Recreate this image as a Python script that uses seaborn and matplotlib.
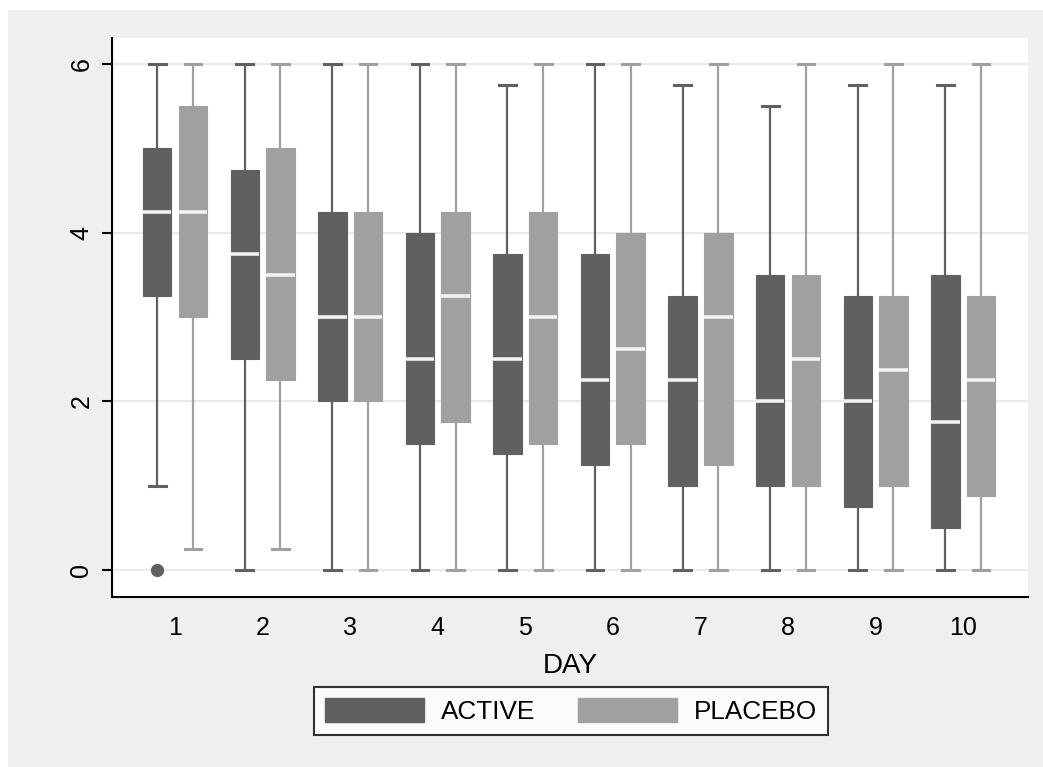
import numpy as np
import pandas as pd
import seaborn as sns
import matplotlib.pyplot as plt
from matplotlib.patches import Patch, Rectangle

# box summaries, one value per day
days = [str(d) for d in range(1, 11)]
groups = ["ACTIVE", "PLACEBO"]

active_lo = [1.0, 0, 0, 0, 0, 0, 0, 0, 0, 0]
active_q1 = [3.25, 2.5, 2.0, 1.5, 1.375, 1.25, 1.0, 1.0, 0.75, 0.5]
active_med = [4.25, 3.75, 3.0, 2.5, 2.5, 2.25, 2.25, 2.0, 2.0, 1.75]
active_q3 = [5.0, 4.75, 4.25, 4.0, 3.75, 3.75, 3.25, 3.5, 3.25, 3.5]
active_hi = [6, 6, 6, 6, 5.75, 6, 5.75, 5.5, 5.75, 5.75]
active_out = {"1": [0.0]}

placebo_lo = [0.25, 0.25, 0, 0, 0, 0, 0, 0, 0, 0]
placebo_q1 = [3.0, 2.25, 2.0, 1.75, 1.5, 1.5, 1.25, 1.0, 1.0, 0.875]
placebo_med = [4.25, 3.5, 3.0, 3.25, 3.0, 2.625, 3.0, 2.5, 2.375, 2.25]
placebo_q3 = [5.5, 5.0, 4.25, 4.25, 4.25, 4.0, 4.0, 3.5, 3.25, 3.25]
placebo_hi = [6, 6, 6, 6, 6, 6, 6, 6, 6, 6]
placebo_out = {}

colors = {"ACTIVE": "#606060", "PLACEBO": "#a0a0a0"}


# rebuild 9 values per box so the quartiles come out exactly as read
def sample(lo, q1, med, q3, hi, out):
    pts = list(out) + [lo] * (2 - len(out))
    return pts + [q1, q1, med, q3, q3, hi, hi]


rows = []
for grp, lo, q1, md, q3, hi, out in [
    ("ACTIVE", active_lo, active_q1, active_med, active_q3, active_hi, active_out),
    ("PLACEBO", placebo_lo, placebo_q1, placebo_med, placebo_q3, placebo_hi, placebo_out),
]:
    for i, d in enumerate(days):
        for v in sample(lo[i], q1[i], md[i], q3[i], hi[i], out.get(d, [])):
            rows.append({"DAY": d, "score": v, "group": grp})
df = pd.DataFrame(rows)

plt.rcParams["font.family"] = ["Liberation Sans", "DejaVu Sans"]

fig = plt.figure(figsize=(10.43, 7.67), dpi=100, facecolor="white")
fig.add_artist(Rectangle((8 / 1043, -0.1), 1.2, 1.1 - 10 / 767, transform=fig.transFigure,
                         facecolor="#efefef", edgecolor="none", zorder=-10))
ax = fig.add_axes([112 / 1043, 1 - 597 / 767, (1028 - 112) / 1043, (597 - 38) / 767])
ax.set_facecolor("white")

# one call per group so each keeps its own line colour; dodge forced on
for g in groups:
    c = colors[g]
    sns.boxplot(data=df[df["group"] == g], x="DAY", y="score", hue="group",
                order=days, hue_order=groups, palette=colors, dodge=True,
                width=0.815, gap=0.2,
                linecolor=c, linewidth=1.6, fliersize=8.5, legend=False, ax=ax,
                medianprops={"color": "#f2f2f2", "linewidth": 2.6},
                capprops={"linewidth": 2.2},
                boxprops={"edgecolor": c, "linewidth": 0.8},
                flierprops={"marker": "o", "markerfacecolor": c, "markeredgecolor": c},
                capwidths=0.19)

ax.set_xlim(-0.72, 9.74)
ax.set_ylim(-0.32, 6.31)
ax.set_yticks([0, 2, 4, 6])
ax.yaxis.grid(True, color="#e6e6e6", linewidth=1.2)
ax.set_axisbelow(True)

for s in ["top", "right"]:
    ax.spines[s].set_visible(False)
for s in ["left", "bottom"]:
    ax.spines[s].set_color("black")
    ax.spines[s].set_linewidth(1.5)

ax.tick_params(axis="y", length=7.5, width=1.5, pad=6, labelsize=18, labelrotation=90)
for lab in ax.get_yticklabels():
    lab.set_va("center")
ax.tick_params(axis="x", length=0, pad=14, labelsize=18)
ax.set_xlabel("DAY", fontsize=20, labelpad=9)
ax.set_ylabel("")

handles = [Patch(facecolor=colors[g], edgecolor=colors[g]) for g in groups]
leg = fig.legend(handles, groups, loc="center", bbox_to_anchor=(571 / 1043, 1 - 711 / 767),
                 ncol=2, fontsize=18.8, frameon=True, fancybox=False, handlelength=3.8,
                 handleheight=1.07, handletextpad=0.65, columnspacing=1.65, borderpad=0.42)
leg.get_frame().set_edgecolor("black")
leg.get_frame().set_linewidth(1.5)
leg.get_frame().set_facecolor("white")

fig.savefig("out.png", dpi=100, facecolor=fig.get_facecolor())
